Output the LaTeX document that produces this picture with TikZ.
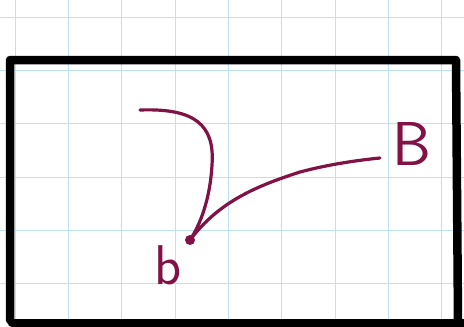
\documentclass[tikz,border=0pt]{standalone}
\usepackage{fontspec}
\definecolor{gridblue}{RGB}{190,226,244}
\definecolor{ink}{RGB}{128,18,70}
\tikzset{
  gridline/.style={gridblue, line width=0.9pt},
  frame/.style={black, line width=8.5pt, line join=round, line cap=round},
  inkline/.style={ink, line width=3.2pt, line cap=round},
  lbl/.style={ink, font=\sffamily, inner sep=0pt}
}
\begin{document}
\begin{tikzpicture}[x=1pt,y=-1pt]
\useasboundingbox (0,0) rectangle (464,327);
\fill[white] (0,0) rectangle (464,327);
% grid
\foreach \gx in {15,68.3,121.6,175,228.3,281.6,335,388.3,441.6}
  \draw[gridline] (\gx,0) -- (\gx,327);
\foreach \gy in {17,70.3,123.6,177,230.3,283.6}
  \draw[gridline] (0,\gy) -- (464,\gy);
% frame
\draw[frame] (10,320) -- (10,60) -- (456,60) -- (458,320);
\draw[frame] (12,323) -- (464,323);
% ink
\coordinate (s) at (140,110);
\coordinate (e) at (380,158);
\node[circle, fill=ink, minimum size=10pt, inner sep=0pt] (d) at (190,240) {};
\draw[inkline] (s) .. controls (195,108) and (215,125) .. (212,165)
   .. controls (210,200) and (200,225) .. (d.center);
\draw[inkline] (d.center) .. controls (220,200) and (260,185) .. (300,172)
   .. controls (330,164) and (360,160) .. (e);
\node[lbl, font=\sffamily\fontsize{56}{56}\selectfont] (b) at (168,265) {b};
\node[lbl, font=\sffamily\fontsize{62}{62}\selectfont] (B) at (412,144) {B};
\end{tikzpicture}
\end{document}
